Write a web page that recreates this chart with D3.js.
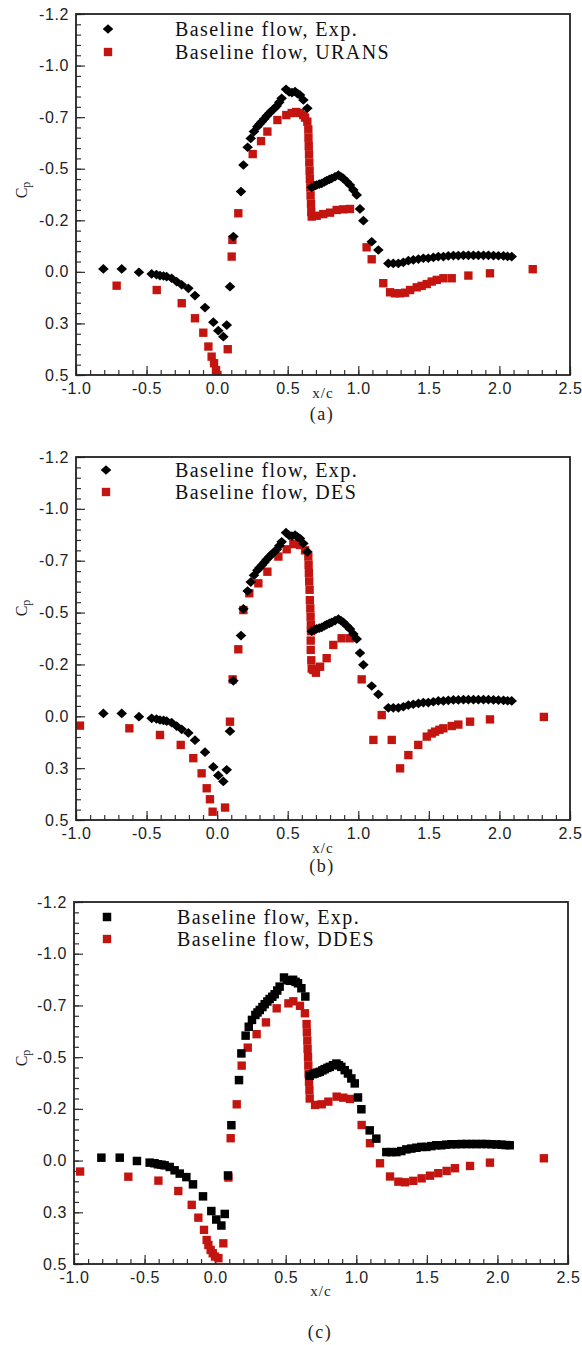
<!DOCTYPE html>
<html><head><meta charset="utf-8">
<script src="https://cdn.jsdelivr.net/npm/d3@7"></script>
<style>body{margin:0;background:#fff}</style>
</head><body>
<svg id="chart" width="582" height="1345"></svg>
<script>
// ---------- DATA ----------
const expX = [-0.806,-0.676,-0.554,-0.464,-0.43,-0.405,-0.38,-0.358,-0.322,-0.287,
  -0.251,-0.204,-0.157,-0.086,-0.027,0.008,0.044,0.068,0.091,0.115,
  0.169,0.186,0.216,0.238,0.261,0.285,0.30,0.316,0.335,0.351,
  0.37,0.386,0.405,0.422,0.44,0.457,0.488,0.51,0.53,0.552,
  0.57,0.587,0.611,0.639,0.67,0.693,0.705,0.723,0.741,0.76,
  0.776,0.795,0.812,0.835,0.859,0.877,0.894,0.918,0.941,0.965,
  0.989,1.012,1.036,1.095,1.142,1.213,1.248,1.284,1.319,1.355,
  1.39,1.426,1.461,1.496,1.532,1.567,1.603,1.638,1.674,1.709,
  1.745,1.78,1.816,1.851,1.887,1.922,1.958,1.993,2.029,2.058,
  2.087];
const expCp = [-0.014,-0.014,0.002,0.010,0.013,0.018,0.020,0.023,0.031,0.047,
  0.063,0.080,0.115,0.173,0.244,0.285,0.314,0.258,0.072,-0.171,
  -0.389,-0.518,-0.604,-0.647,-0.680,-0.704,-0.716,-0.728,-0.742,-0.756,
  -0.769,-0.781,-0.792,-0.804,-0.822,-0.841,-0.885,-0.872,-0.869,-0.874,
  -0.864,-0.857,-0.833,-0.793,-0.410,-0.418,-0.421,-0.425,-0.429,-0.436,
  -0.442,-0.448,-0.453,-0.461,-0.469,-0.461,-0.453,-0.437,-0.421,-0.397,
  -0.373,-0.305,-0.248,-0.146,-0.106,-0.041,-0.041,-0.041,-0.046,-0.054,
  -0.058,-0.062,-0.066,-0.066,-0.070,-0.074,-0.074,-0.077,-0.079,-0.079,
  -0.080,-0.080,-0.080,-0.080,-0.080,-0.080,-0.079,-0.078,-0.077,-0.075,
  -0.074];

const uransX = [-0.712,-0.428,-0.251,-0.157,-0.098,-0.062,-0.039,-0.022,-0.008,0.002,
  0.075,0.103,0.108,0.150,0.252,0.311,0.356,0.427,0.490,0.528,
  0.560,0.587,0.610,0.623,0.639,0.646,0.647,0.649,0.651,0.653,
  0.655,0.657,0.660,0.662,0.665,0.667,0.670,0.705,0.752,0.800,
  0.847,0.894,0.941,1.059,1.095,1.177,1.225,1.260,1.296,1.331,
  1.367,1.414,1.449,1.485,1.520,1.556,1.603,1.662,1.780,1.933,
  2.236];
const uransCp = [0.067,0.088,0.152,0.225,0.295,0.362,0.411,0.443,0.476,0.500,
  0.375,-0.074,-0.155,-0.284,-0.571,-0.634,-0.680,-0.736,-0.760,-0.770,
  -0.775,-0.770,-0.760,-0.748,-0.728,-0.690,-0.650,-0.610,-0.570,-0.530,
  -0.490,-0.450,-0.410,-0.370,-0.330,-0.290,-0.268,-0.272,-0.280,-0.287,
  -0.300,-0.303,-0.305,-0.119,-0.061,0.055,0.099,0.104,0.104,0.101,
  0.088,0.075,0.068,0.059,0.047,0.039,0.031,0.031,0.018,0.007,
  -0.013];

const desX = [-0.972,-0.622,-0.405,-0.258,-0.169,-0.110,-0.074,-0.051,-0.032,0.056,
  0.091,0.110,0.150,0.186,0.228,0.292,0.356,0.434,0.493,0.540,
  0.587,0.623,0.646,0.648,0.650,0.652,0.655,0.657,0.660,0.662,
  0.664,0.665,0.663,0.663,0.667,0.670,0.682,0.700,0.729,0.776,
  0.823,0.882,0.941,1.024,1.107,1.166,1.237,1.296,1.355,1.425,
  1.485,1.520,1.544,1.575,1.603,1.662,1.709,1.792,1.933,2.315];
const desCp = [0.045,0.058,0.090,0.138,0.202,0.275,0.347,0.400,0.460,0.440,
  0.026,-0.178,-0.323,-0.512,-0.593,-0.641,-0.697,-0.770,-0.805,-0.830,
  -0.826,-0.800,-0.770,-0.730,-0.690,-0.650,-0.610,-0.560,-0.520,-0.480,
  -0.440,-0.410,-0.365,-0.320,-0.270,-0.230,-0.223,-0.210,-0.239,-0.280,
  -0.344,-0.376,-0.376,-0.178,0.114,-0.006,0.114,0.251,0.187,0.138,
  0.098,0.083,0.074,0.065,0.058,0.047,0.040,0.026,0.015,0.003];

const ddesX = [-0.957,-0.615,-0.402,-0.261,-0.166,-0.119,-0.079,-0.060,-0.048,-0.032,
  -0.017,-0.001,0.023,0.058,0.094,0.110,0.153,0.188,0.231,0.294,
  0.360,0.436,0.519,0.554,0.601,0.636,0.648,0.650,0.653,0.655,
  0.658,0.660,0.662,0.665,0.668,0.670,0.708,0.755,0.802,0.861,
  0.908,0.955,1.038,1.097,1.168,1.239,1.298,1.345,1.404,1.463,
  1.522,1.581,1.640,1.699,1.806,1.947,2.329];
const ddesCp = [0.053,0.078,0.097,0.147,0.214,0.276,0.335,0.384,0.408,0.432,
  0.448,0.464,0.472,0.400,0.082,-0.108,-0.272,-0.459,-0.546,-0.611,
  -0.668,-0.736,-0.760,-0.770,-0.748,-0.712,-0.660,-0.620,-0.580,-0.540,
  -0.500,-0.460,-0.420,-0.380,-0.340,-0.300,-0.269,-0.272,-0.285,-0.309,
  -0.304,-0.298,-0.172,-0.084,0.013,0.077,0.102,0.105,0.098,0.086,
  0.073,0.061,0.050,0.037,0.026,0.010,-0.011];

const xTicks = [-1, -0.5, 0, 0.5, 1, 1.5, 2, 2.5];
const xTickLabels = ["-1.0","-0.5","0.0","0.5","1.0","1.5","2.0","2.5"];
const yTicks = [-1.25, -1, -0.75, -0.5, -0.25, 0, 0.25, 0.5];
const yTickLabels = ["-1.2","-1.0","-0.7","-0.5","-0.2","0.0","0.3","0.5"];
const seriesNames = ["Baseline flow, Exp.","Baseline flow, URANS","Baseline flow, DES","Baseline flow, DDES"];
const panelLabels = ["(a)","(b)","(c)"];
const xTitle = "x/c";

// ---------- LAYOUT ----------
const RED = "#c3140f", BLACK = "#000";
const svg = d3.select("#chart");
svg.append("rect").attr("width",582).attr("height",1345).attr("fill","#fff");

const wideDiamond = { draw(ctx, size){ const s=Math.sqrt(size); const w=s*0.72, h=s*0.66;
  ctx.moveTo(0,-h); ctx.lineTo(w,0); ctx.lineTo(0,h); ctx.lineTo(-w,0); ctx.closePath(); } };

const panels = [
  {top:14, bottom:375, left:76, right:570, xs:uransX, ys:uransCp, name:seriesNames[1], expSym:wideDiamond, expSize:54,
   label:panelLabels[0], cpY:190, xtBase:394, xcY:393, labelY:414, legX:108, legTX:175, legY:[29,52]},
  {top:457, bottom:820, left:76, right:570, xs:desX, ys:desCp, name:seriesNames[2], expSym:wideDiamond, expSize:54,
   label:panelLabels[1], cpY:608, xtBase:839, xcY:848, labelY:866, legX:106, legTX:175, legY:[470,492]},
  {top:902, bottom:1264, left:74, right:568, xs:ddesX, ys:ddesCp, name:seriesNames[3], expSym:d3.symbolSquare, expSize:72,
   label:panelLabels[2], cpY:1058, xtBase:1283, xcY:1291, labelY:1332, legX:107, legTX:177, legY:[917,939]}
];

const tickFont = "'Liberation Sans', Arial, sans-serif";
const serif = "'Liberation Serif', 'Times New Roman', serif";

panels.forEach((p,i)=>{
  const x = d3.scaleLinear().domain([-1,2.5]).range([p.left,p.right]);
  const y = d3.scaleLinear().domain([-1.25,0.5]).range([p.top,p.bottom]);
  const g = svg.append("g");
  const cid = "clip"+i;
  svg.append("clipPath").attr("id",cid).append("rect")
    .attr("x",p.left).attr("y",p.top).attr("width",p.right-p.left).attr("height",p.bottom-p.top);

  const yMinor = d3.range(0,36).map(k=>-1.25+k*0.05);
  const xMinor = d3.range(0,36).map(k=>-1+k*0.1);

  g.append("g").attr("transform",`translate(${p.left},0)`)
    .call(d3.axisLeft(y).tickValues(yMinor).tickSize(-5).tickFormat(""));
  g.append("g").attr("transform",`translate(0,${p.bottom})`)
    .call(d3.axisBottom(x).tickValues(xMinor).tickSize(-5).tickFormat(""));
  g.append("g").attr("class","yax").attr("transform",`translate(${p.left},0)`)
    .call(d3.axisLeft(y).tickValues(yTicks).tickSize(-9).tickPadding(7).tickFormat((d,k)=>yTickLabels[k]));
  g.append("g").attr("class","xax").attr("transform",`translate(0,${p.bottom})`)
    .call(d3.axisBottom(x).tickValues(xTicks).tickSize(-9).tickPadding(p.xtBase-p.bottom-11.5).tickFormat((d,k)=>xTickLabels[k]));
  g.selectAll(".domain").remove();
  g.selectAll(".tick line").attr("stroke","#333").attr("stroke-width",1.2);
  g.selectAll(".tick text").attr("font-family",tickFont).attr("font-size",16)
    .attr("fill","#222").attr("letter-spacing","0.6px");

  const plot = g.append("g").attr("clip-path",`url(#${cid})`);
  plot.selectAll("path.cfd").data(d3.zip(p.xs,p.ys)).join("path").attr("class","cfd")
    .attr("d", d3.symbol(d3.symbolSquare, 70))
    .attr("transform", d=>`translate(${x(d[0])},${y(d[1])})`).attr("fill",RED);
  plot.selectAll("path.exp").data(d3.zip(expX,expCp)).join("path").attr("class","exp")
    .attr("d", d3.symbol(p.expSym, p.expSize))
    .attr("transform", d=>`translate(${x(d[0])},${y(d[1])})`).attr("fill",BLACK);

  g.append("rect").attr("x",p.left).attr("y",p.top).attr("width",p.right-p.left).attr("height",p.bottom-p.top)
    .attr("fill","none").attr("stroke","#222").attr("stroke-width",1.8);

  const leg = g.append("g");
  leg.append("path").attr("d", d3.symbol(p.expSym, p.expSize)).attr("transform",`translate(${p.legX},${p.legY[0]})`).attr("fill",BLACK);
  leg.append("path").attr("d", d3.symbol(d3.symbolSquare, 70)).attr("transform",`translate(${p.legX},${p.legY[1]})`).attr("fill",RED);
  [seriesNames[0], p.name].forEach((t,k)=>{
    leg.append("text").attr("x",p.legTX).attr("y",p.legY[k]+7).text(t)
      .attr("font-family",serif).attr("font-size",20).attr("letter-spacing","1.4px").attr("fill","#111");
  });

  const cp = g.append("text").attr("transform",`translate(21,${p.cpY}) rotate(-90)`)
    .attr("text-anchor","middle").attr("font-family",serif).attr("font-size",16).attr("fill","#222")
    .attr("dy","0.35em");
  cp.append("tspan").text("C");
  cp.append("tspan").attr("font-size",12).attr("dy","3").text("p");

  g.append("text").attr("x",(p.left+p.right)/2).attr("y",p.xcY).attr("dy","0.35em")
    .attr("text-anchor","middle").attr("font-family",serif).attr("font-size",15).attr("letter-spacing","1px")
    .attr("fill","#222").text(xTitle);
  g.append("text").attr("x",(p.left+p.right)/2 - 1).attr("y",p.labelY).attr("dy","0.35em")
    .attr("text-anchor","middle").attr("font-family",serif).attr("font-size",18).attr("letter-spacing","1.5px")
    .attr("fill","#222").text(p.label);
});
</script>
</body></html>
